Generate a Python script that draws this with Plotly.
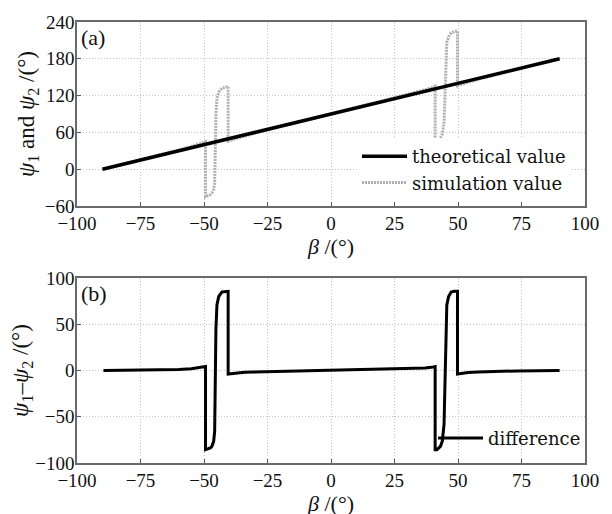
import plotly.graph_objects as go

# ---- data ----
theo_beta = [-90, 90]
theo_val = [0, 180]

beta = [-89.6, -80, -70, -60, -55, -52, -50.5, -49.4, -49.4, -48.2, -47.5, -46.9,
        -46.2, -45.8, -45.6, -45.3, -44.9, -44.2, -42.9, -41.5, -40.5, -40.5,
        -39.5, -37, -34, -30, -20, -10, 0, 10, 20, 27, 33, 37, 39.5, 41.0, 41.0,
        41.7, 43.1, 43.8, 44.5, 44.9, 45.2, 45.6, 46.3, 47.3, 48.5, 49.8, 49.8,
        51, 54, 58, 65, 73, 90]

sim_val = [0.4, 10.2, 20.5, 31.2, 37.0, 40.8, 43.1, 45.0, -44.9, -43.0, -41.3, -38.9,
           -32.8, -21.6, 36.4, 90.7, 116.1, 125.8, 132.0, 134.1, 135.1, 45.7,
           47.1, 50.4, 54.0, 58.5, 69.1, 79.5, 90, 100.4, 110.8, 118.2, 124.8, 129.6,
           132.9, 135.3, 45.4, 46.1, 51.1, 57.2, 75.9, 126.9, 181.2, 206.6, 216.3,
           222.2, 224.1, 225.4, 136.0, 137.8, 141.8, 146.5, 154.1, 162.5, 180]

diff_val = [0, 0.2, 0.5, 1.2, 2.0, 2.8, 3.6, 4.3, -85.6, -84.8, -83.8, -82,
            -76.6, -65.8, -8, 46, 71, 80, 84.9, 85.6, 85.6, -3.8,
            -3.4, -2.6, -2.0, -1.5, -0.9, -0.5, 0, 0.4, 0.8, 1.2, 1.8, 2.6, 3.4, 4.3,
            -85.6, -85.6, -82, -76.6, -58.6, -8, 46, 71, 80, 84.9, 85.6, 85.6, -3.8,
            -3.2, -2.2, -1.5, -0.9, -0.5, 0]

x_ticks = [-100, -75, -50, -25, 0, 25, 50, 75, 100]
y1_ticks = [-60, 0, 60, 120, 180, 240]
y2_ticks = [-100, -50, 0, 50, 100]

# ---- layout geometry ----
W, H = 612, 514
FONT = "Liberation Serif, Times New Roman, serif"
LFONT = "DejaVu Serif, serif"
FS = 19
TFS = 22
INK = "#111111"

fig = go.Figure()

fig.add_trace(go.Scatter(x=beta, y=sim_val, mode="lines", name="simulation value",
                         line=dict(color="#b0b0b0", width=3, dash="2px,1px"),
                         xaxis="x", yaxis="y", legendrank=2, legend="legend"))
fig.add_trace(go.Scatter(x=theo_beta, y=theo_val, mode="lines", name="theoretical value",
                         line=dict(color="black", width=3.5),
                         xaxis="x", yaxis="y", legendrank=1, legend="legend"))
fig.add_trace(go.Scatter(x=beta, y=diff_val, mode="lines", name="difference",
                         line=dict(color="black", width=3),
                         xaxis="x2", yaxis="y2", legend="legend2"))

xl, xr = 69 / W, 577 / W
top1, bot1 = 1 - 14 / H, 1 - 198 / H
top2, bot2 = 1 - 270 / H, 1 - 455 / H

axis_common = dict(
    showline=True, mirror=True, linecolor="#6a6a6a", linewidth=1.5,
    ticks="inside", ticklen=4, tickcolor="#555555",
    showgrid=True, gridcolor="#c4c4c4", griddash="1px,2px", gridwidth=1,
    zeroline=False, tickfont=dict(family=FONT, size=FS, color=INK),
    automargin=False,
)

fig.update_layout(
    width=W, height=H,
    margin=dict(l=0, r=0, t=0, b=0),
    paper_bgcolor="white", plot_bgcolor="white",
    font=dict(family=FONT, size=FS, color=INK),
    xaxis=dict(domain=[xl, xr], range=[-100, 100], tickvals=x_ticks, anchor="y",
               ticklabelstandoff=-1,
               title=dict(text="<i>β</i> /(°)", font=dict(family=FONT, size=TFS, color=INK),
                          standoff=0),
               **axis_common),
    yaxis=dict(domain=[bot1, top1], range=[-60, 240], tickvals=y1_ticks, anchor="x",
               ticklabelstandoff=-3,
               title=dict(text="<i>ψ</i><sub>1</sub> and <i>ψ</i><sub>2</sub> /(°)",
                          font=dict(family=FONT, size=23, color=INK), standoff=4),
               **axis_common),
    xaxis2=dict(domain=[xl, xr], range=[-100, 100], tickvals=x_ticks, anchor="y2",
                ticklabelstandoff=-1,
                title=dict(text="<i>β</i> /(°)", font=dict(family=FONT, size=TFS, color=INK),
                           standoff=0),
                **axis_common),
    yaxis2=dict(domain=[bot2, top2], range=[-100, 100], tickvals=y2_ticks, anchor="x2",
                ticklabelstandoff=-3,
                title=dict(text="<i>ψ</i><sub>1</sub>–<i>ψ</i><sub>2</sub> /(°)",
                           font=dict(family=FONT, size=23, color=INK), standoff=4),
                **axis_common),
    legend=dict(x=349 / W, y=bot1 + 5 / H, xanchor="left", yanchor="bottom",
                bgcolor="white", borderwidth=0, font=dict(family=LFONT, size=18, color=INK),
                itemwidth=45, tracegroupgap=0),
    legend2=dict(x=425 / W, y=bot2 + 0.012, xanchor="left", yanchor="bottom",
                 bgcolor="rgba(255,255,255,0)", borderwidth=0,
                 font=dict(family=LFONT, size=18, color=INK), itemwidth=45),
    annotations=[
        dict(text="(a)", x=xl + 0.004, y=top1 - 0.002, xref="paper", yref="paper",
             xanchor="left", yanchor="top", showarrow=False,
             font=dict(family=FONT, size=22, color=INK)),
        dict(text="(b)", x=xl + 0.004, y=top2 - 0.002, xref="paper", yref="paper",
             xanchor="left", yanchor="top", showarrow=False,
             font=dict(family=FONT, size=22, color=INK)),
    ],
)

fig.write_html("out.html")
